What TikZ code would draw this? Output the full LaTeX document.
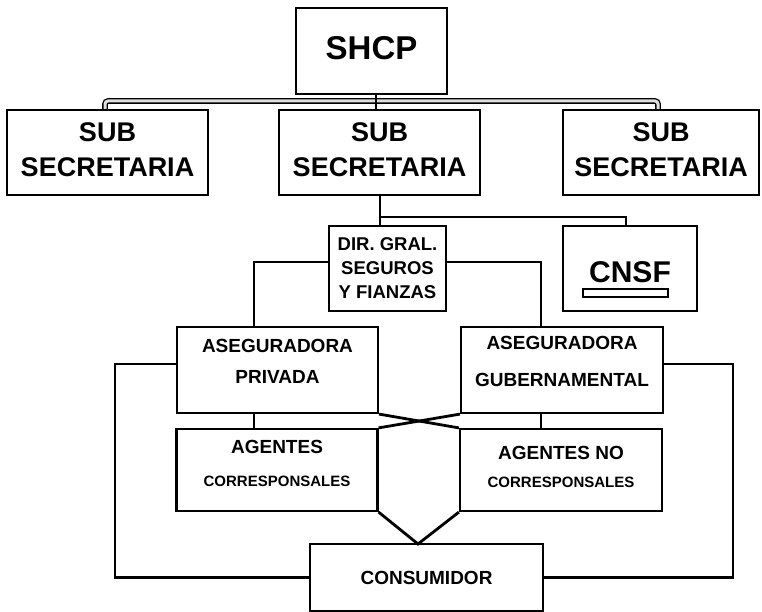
\documentclass[tikz,border=0pt]{standalone}
\usepackage{fontspec}
\setmainfont{Liberation Sans}
\begin{document}
\begin{tikzpicture}[x=1pt, y=-1pt,
  box/.style={draw, line width=2.2pt, inner sep=0pt, align=center, font=\bfseries},
  link/.style={line width=2.8pt},
  bus/.style={line width=1.3pt, double=gray!25, double distance=3pt, rounded corners=3pt}]
  \useasboundingbox (0,0) rectangle (762,612);

  % top level
  \node[box, minimum width=151pt, minimum height=86pt, text depth=6pt, font=\bfseries\fontsize{33}{36}\selectfont] (shcp) at (371.5,51) {SHCP};
  \node[box, minimum width=201pt, minimum height=85pt, text depth=5pt, font=\bfseries\fontsize{27}{35}\selectfont] (subA) at (107.5,152.5) {SUB\\SECRETARIA};
  \node[box, minimum width=201pt, minimum height=85pt, text depth=5pt, font=\bfseries\fontsize{27}{35}\selectfont] (subB) at (379.5,152.5) {SUB\\SECRETARIA};
  \node[box, minimum width=196pt, minimum height=85pt, text depth=5pt, font=\bfseries\fontsize{27}{35}\selectfont] (subC) at (661,152.5) {SUB\\SECRETARIA};

  % bus under SHCP, drawn as a hollow bar
  \coordinate (busL) at (105,101);
  \coordinate (busM) at (376,101);
  \coordinate (busR) at (658,101);
  \draw[bus] (busL |- subA.north) -- (busL) -- (busR) -- (busR |- subC.north);
  \draw[link, line width=1.8pt] (busM |- shcp.south) -- (busM |- subB.north);

  % second level
  \node[box, minimum width=117pt, minimum height=85pt, font=\bfseries\fontsize{18.5}{24}\selectfont] (dir) at (387.5,268.5) {DIR. GRAL.\\SEGUROS\\Y FIANZAS};
  \node[box, minimum width=134pt, minimum height=85pt, text height=27.5pt, font=\bfseries\fontsize{30}{34}\selectfont] (cnsf) at (630,268.5) {CNSF};
  \draw[line width=1.2pt] (583,289) rectangle (668,297);

  \coordinate (split) at (380,217);
  \coordinate (splitR) at (626,217);
  \draw[link] (subB.south -| split) -- (split) -- (splitR) -- (splitR |- cnsf.north);
  \draw[link] (split) -- (split |- dir.north);

  % insurers
  \node[box, minimum width=201pt, minimum height=86pt, text depth=17pt, font=\bfseries\fontsize{19}{31}\selectfont] (asegP) at (277.5,370) {ASEGURADORA\\PRIVADA};
  \node[box, minimum width=202pt, minimum height=86pt, text depth=17pt, font=\bfseries\fontsize{19}{37}\selectfont] (asegG) at (562,370) {ASEGURADORA\\GUBERNAMENTAL};

  \coordinate (dirL) at (254,262);
  \coordinate (dirR) at (541,262);
  \draw[link] (dir.west |- dirL) -- (dirL) -- (dirL |- asegP.north);
  \draw[link] (dir.east |- dirR) -- (dirR) -- (dirR |- asegG.north);

  % agents
  \node[box, minimum width=201pt, minimum height=82pt, text depth=13pt, font=\bfseries\fontsize{19}{33}\selectfont] (agC) at (277,470) {AGENTES\\{\fontsize{15}{15}\selectfont CORRESPONSALES}};
  \node[box, minimum width=202pt, minimum height=82pt, text depth=7pt, font=\bfseries\fontsize{19}{28}\selectfont] (agN) at (561,470) {AGENTES NO\\{\fontsize{15}{15}\selectfont CORRESPONSALES}};

  \draw[link] (dirL |- asegP.south) -- (dirL |- agC.north);
  \draw[link] (dirR |- asegG.south) -- (dirR |- agN.north);
  \draw[link] (asegP.south east) -- (agN.north west);
  \draw[link] (asegG.south west) -- (agC.north east);

  % consumer
  \node[box, minimum width=233pt, minimum height=67pt, font=\bfseries\fontsize{19}{24}\selectfont] (cons) at (426.5,577.5) {CONSUMIDOR};
  \coordinate (vtip) at (418,544);
  \draw[link] (agC.south east) -- (vtip) -- (agN.south west);

  \coordinate (loopL) at (115,364);
  \coordinate (loopR) at (733,364);
  \draw[link] (asegP.west |- loopL) -- (loopL) |- (cons.west);
  \draw[link] (asegG.east |- loopR) -- (loopR) |- (cons.east);
\end{tikzpicture}
\end{document}
